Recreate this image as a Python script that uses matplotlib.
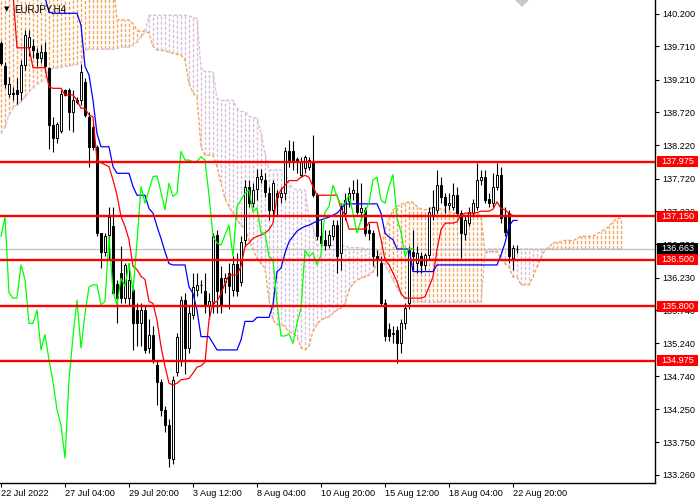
import numpy as np
import matplotlib
matplotlib.use("Agg")
import matplotlib.pyplot as plt
from matplotlib.patches import Rectangle, Polygon
from matplotlib.transforms import blended_transform_factory

plt.rcParams['font.family'] = ['Liberation Sans', 'DejaVu Sans']
plt.rcParams['lines.scale_dashes'] = False

# EURJPY H4 candles (bar 0 = 22 Jul 2022 12:00)
opens = [139.76, 139.41, 139.00, 139.00, 139.05, 139.03, 139.43, 139.70, 139.71, 139.61,
         139.53, 139.63, 139.38, 138.53, 138.33, 138.43, 139.05, 139.05, 138.73, 138.90,
         138.90, 139.18, 138.65, 138.50, 138.20, 136.90, 136.62, 136.87, 137.00, 136.14,
         136.30, 135.92, 135.92, 136.04, 135.74, 135.54, 135.74, 135.17, 135.37, 134.91,
         134.66, 134.24, 134.01, 133.49, 134.81, 134.99, 135.89, 135.17, 135.67, 136.04,
         136.12, 136.02, 135.82, 135.84, 136.87, 136.22, 136.17, 136.30, 136.04, 136.44,
         136.17, 136.80, 137.60, 137.35, 137.57, 137.72, 137.70, 137.50, 137.25, 137.50,
         137.45, 137.50, 138.13, 138.13, 138.02, 137.78, 137.88, 137.90, 137.98, 137.47,
         136.85, 136.80, 136.72, 136.85, 137.02, 136.60, 137.20, 137.38, 137.50, 137.50,
         137.22, 137.25, 136.95, 136.90, 136.55, 136.45, 135.85, 135.45, 135.40, 135.44,
         135.24, 135.54, 135.84, 136.62, 136.45, 136.55, 136.42, 136.57, 137.17, 137.25,
         137.62, 137.45, 137.32, 137.30, 137.47, 137.20, 136.88, 137.05, 137.20, 137.30,
         137.70, 137.74, 137.42, 137.35, 137.60, 137.78, 137.15, 137.20, 136.52, 136.66]
highs = [139.80, 139.48, 139.25, 139.10, 139.23, 139.50, 139.96, 139.96, 139.83, 139.68,
         139.73, 139.78, 139.40, 138.65, 138.58, 139.05, 139.07, 139.08, 139.05, 138.95,
         139.45, 139.23, 138.73, 138.55, 138.22, 136.90, 136.90, 137.30, 137.30, 136.20,
         136.70, 136.45, 136.45, 136.10, 135.85, 135.85, 135.80, 135.60, 135.50, 134.99,
         134.70, 134.30, 134.10, 134.75, 135.40, 135.95, 135.99, 135.80, 136.30, 136.30,
         136.20, 136.30, 136.00, 136.90, 136.95, 136.40, 136.30, 136.45, 136.55, 136.60,
         136.85, 137.70, 137.70, 137.65, 137.87, 137.87, 137.80, 137.60, 137.70, 137.55,
         137.60, 138.20, 138.30, 138.28, 138.05, 138.05, 138.08, 138.05, 138.38, 137.50,
         137.10, 136.95, 136.95, 137.10, 137.10, 137.35, 137.50, 137.60, 137.70, 137.72,
         137.65, 137.30, 137.05, 136.95, 136.65, 136.55, 135.90, 135.55, 135.50, 135.50,
         135.60, 135.85, 136.70, 136.95, 136.70, 136.62, 136.60, 137.30, 137.55, 137.85,
         137.75, 137.50, 137.50, 137.65, 137.60, 137.25, 137.15, 137.30, 137.42, 137.95,
         137.85, 137.85, 137.50, 137.80, 137.95, 137.90, 137.30, 137.25, 136.72, 136.72]
lows = [139.43, 139.08, 138.95, 138.90, 138.85, 138.90, 139.36, 139.56, 139.53, 139.41,
        139.46, 139.33, 138.17, 138.12, 138.25, 138.40, 138.96, 138.45, 138.42, 138.85,
        138.83, 138.65, 137.90, 138.15, 136.85, 136.37, 136.55, 136.50, 135.98, 135.54,
        135.85, 135.84, 135.80, 135.14, 135.20, 135.20, 135.10, 135.10, 134.95, 134.31,
        134.15, 133.90, 133.38, 133.42, 134.75, 134.90, 134.78, 135.10, 135.60, 135.95,
        136.00, 135.70, 135.60, 135.70, 135.70, 135.70, 136.00, 135.75, 135.95, 135.95,
        136.10, 136.70, 137.30, 137.30, 137.40, 137.65, 137.45, 137.10, 137.15, 137.15,
        137.35, 137.40, 137.90, 137.85, 137.80, 137.75, 137.80, 137.85, 137.45, 136.80,
        136.70, 136.65, 136.67, 136.80, 136.30, 136.35, 137.10, 137.30, 137.40, 137.18,
        137.10, 136.85, 136.80, 136.40, 136.25, 135.80, 135.27, 135.28, 135.25, 134.94,
        135.10, 135.45, 135.75, 136.35, 136.30, 136.30, 136.35, 136.50, 137.10, 137.20,
        137.35, 137.20, 137.25, 137.25, 137.15, 136.52, 136.80, 137.00, 137.15, 137.25,
        137.62, 137.35, 137.30, 137.30, 137.55, 137.05, 136.85, 136.45, 136.35, 136.60]
closes = [139.46, 139.15, 139.15, 139.00, 139.00, 139.43, 139.88, 139.85, 139.66, 139.53,
          139.63, 139.41, 138.53, 138.33, 138.55, 139.00, 138.98, 138.73, 138.90, 138.88,
          139.33, 138.68, 138.20, 138.20, 136.90, 136.62, 136.85, 137.14, 136.00, 135.92,
          135.92, 136.42, 136.20, 135.54, 135.54, 135.74, 135.14, 135.37, 134.99, 134.66,
          134.24, 134.01, 133.51, 134.69, 135.34, 135.89, 135.17, 135.69, 136.09, 136.12,
          136.12, 135.82, 135.87, 136.85, 136.02, 135.82, 136.22, 136.10, 136.44, 136.02,
          136.77, 137.60, 137.35, 137.55, 137.75, 137.76, 137.52, 137.25, 137.65, 137.45,
          137.50, 138.13, 138.00, 138.00, 137.97, 137.98, 138.05, 138.00, 137.47, 136.85,
          136.75, 136.72, 136.87, 137.02, 136.55, 137.30, 137.40, 137.50, 137.55, 137.22,
          137.28, 136.90, 136.90, 136.55, 136.50, 135.85, 135.35, 135.35, 135.38, 135.24,
          135.54, 135.77, 136.64, 136.55, 136.60, 136.42, 136.57, 137.22, 137.30, 137.62,
          137.45, 137.32, 137.35, 137.47, 137.20, 136.90, 137.10, 137.22, 137.35, 137.70,
          137.74, 137.40, 137.35, 137.60, 137.78, 137.12, 136.92, 136.55, 136.67, 136.663]

# Ichimoku lines
tenkan = ([140.5] * 4 + [139.69] * 4 + [139.39] * 4 + [139.1] + [139.08] * 3 + [138.98] * 3
          + [138.9] + [138.78] * 2
          + [138.68, 138.65, 138.0, 137.96, 137.93, 137.9, 137.7, 137.47, 137.15, 137.0,
             136.8, 136.4, 136.35, 136.25, 136.2, 135.87, 135.84, 135.59, 135.19, 134.89,
             134.64, 134.61, 134.64, 134.69, 134.7, 134.71, 134.79, 134.88, 134.9, 134.96,
             135.59, 135.85, 135.87, 135.99, 136.14]
          + [136.27] * 3
          + [136.4, 136.7, 136.75, 136.82, 136.85, 136.87, 136.9, 136.95, 137.05, 137.45,
             137.55, 137.62]
          + [137.69] * 3 + [137.74, 137.77, 137.74, 137.6] + [137.47] * 6 + [137.27, 137.17]
          + [136.96] * 5 + [137.06] * 3 + [136.8, 136.5, 136.42, 136.3, 136.17, 135.99]
          + [135.92] * 5 + [135.94, 136.09, 136.24, 136.65, 136.95] + [137.05] * 3
          + [137.07, 137.17] + [137.2] * 3 + [137.21] + [137.23] * 3
          + [137.26, 137.37, 137.27, 137.25, 137.2, 137.16, 137.15])
kijun = ([140.6] * 11 + [140.45, 140.23] + [140.21] * 7 + [140.03, 139.41, 139.28, 138.9, 138.4]
         + [138.2] * 3 + [137.9] + [137.8] * 4 + [137.6] + [137.47] * 3
         + [137.27, 137.2, 137.0, 136.82, 136.62, 136.44] + [136.42] * 4
         + [136.09, 135.99, 135.74] + [135.34] * 3 + [135.24] + [135.14] * 6 + [135.29]
         + [135.57] * 3 + [135.63] * 4
         + [135.82, 136.32, 136.37, 136.6, 136.77, 136.85, 136.93, 136.97, 137.0, 137.02,
            137.05, 137.08, 137.1, 137.12, 137.14, 137.17, 137.2, 137.26]
         + [137.34] * 9 + [137.2, 136.9, 136.84, 136.8] + [136.66] * 4 + [136.32] * 6
         + [136.42] * 16 + [136.57, 136.75, 137.0, 137.09, 137.09])
span_a = ([140.7] * 29 + [140.11] * 4
          + [140.05, 139.96, 139.93, 139.95, 139.91, 139.71, 139.66, 139.65, 139.65, 139.62,
             139.61, 139.59, 139.58, 139.51, 139.15, 139.01, 138.95, 138.2, 138.07, 138.07,
             138.07, 137.9, 137.65, 137.42, 137.3, 137.2, 137.1, 137.02, 136.96, 136.8,
             136.65, 136.52, 136.44, 136.37, 135.89, 135.59, 135.52, 135.52, 135.49, 135.41,
             135.39, 135.34, 135.17, 135.14, 135.2, 135.42, 135.53, 135.59, 135.62, 135.64,
             135.69, 135.74, 135.77, 135.84, 136.04, 136.14, 136.19, 136.22, 136.24, 136.27,
             136.32, 136.44, 136.6, 136.95, 137.1, 137.25, 137.3, 137.33, 137.35, 137.37,
             137.36, 137.3, 137.26, 137.25, 137.26, 137.29, 137.27, 137.26, 137.24, 137.22,
             137.21, 137.19, 137.15, 137.17, 137.18, 137.19, 137.2, 137.14, 136.6, 136.62,
             136.62, 136.62, 136.52, 136.44, 136.39, 136.24, 136.24, 136.12, 136.12, 136.12,
             136.24, 136.39, 136.53, 136.65, 136.69, 136.75, 136.76, 136.77, 136.79, 136.79,
             136.78, 136.82, 136.85, 136.85, 136.85, 136.85, 136.89, 136.92, 136.96, 137.0,
             137.07, 137.12, 137.12])
span_b = ([138.4, 138.5, 138.68, 138.78, 138.83, 138.88, 138.95, 139.03, 139.09, 139.14,
           139.18, 139.23, 139.35, 139.38, 139.39, 139.4, 139.41, 139.42, 139.43, 139.44,
           139.46, 139.66] + [139.67] * 7 + [139.68] + [139.7] * 3
          + [139.73, 139.78, 139.86, 139.93] + [140.18] * 10 + [140.17, 140.15, 140.13]
          + [139.38] + [139.33] * 3 + [138.93] + [138.9] * 4 + [138.78] + [138.73] * 2
          + [138.66, 138.64, 138.63, 138.41, 138.1] + [137.85] * 4 + [137.82, 137.65, 137.57]
          + [137.55] * 3 + [137.1, 137.0, 136.72] + [136.71] * 7 + [136.68] * 4 + [136.66] * 4
          + [136.5, 136.42, 136.32, 136.19, 136.07, 135.97, 135.9] + [135.86] * 19
          + [136.6] + [136.66] * 34)

levels = [137.975, 137.150, 136.500, 135.800, 134.975]
last_price = 136.663
price_ticks = [140.200, 139.710, 139.210, 138.720, 138.220, 137.720, 137.230, 136.730,
               136.230, 135.740, 135.240, 134.740, 134.250, 133.750, 133.260]
date_bars = [0, 16, 32, 48, 64, 80, 96, 112, 128]
date_labels = ["22 Jul 2022", "27 Jul 04:00", "29 Jul 20:00", "3 Aug 12:00", "8 Aug 04:00",
               "10 Aug 20:00", "15 Aug 12:00", "18 Aug 04:00", "22 Aug 20:00"]

fig = plt.figure(figsize=(7, 5), dpi=100)
ax = fig.add_axes([0, 17 / 500, 655 / 700, 483 / 500])
ax.set_xlim(-0.25, 163.5)
ax.set_ylim(133.136, 140.41)

# cloud hatching (one dotted column per bar, as MT4 draws it)
sa = np.array(span_a)
sb = np.array(span_b)
sx = np.arange(len(sa))
up = sa >= sb
dash = (0, (2.4, 1.3))
orange = '#f4a460'
thistle = '#d8bfd8'
for i in sx:
    lo, hi = sorted((sa[i], sb[i]))
    ax.plot([i, i], [lo, hi], color=orange if up[i] else thistle, ls=dash, lw=1.0,
            solid_capstyle='butt', dash_capstyle='butt', zorder=1)
ax.plot(sx, sa, color=orange, ls=dash, lw=1.0, zorder=1)
ax.plot(sx, sb, color=thistle, ls=dash, lw=1.0, zorder=1)

ax.axhline(last_price, color='#c0c0c0', lw=0.9, zorder=2)

# candles
x = np.arange(len(closes))
ax.vlines(x, lows, highs, color='black', lw=0.8, zorder=3)
for i in x:
    o, c = opens[i], closes[i]
    lo, hi = min(o, c), max(o, c)
    face = 'white' if c > o else 'black'
    ax.add_patch(Rectangle((i - 0.36, lo), 0.72, max(hi - lo, 0.004),
                           facecolor=face, edgecolor='black', lw=0.7, zorder=4))

# ichimoku lines
ax.plot(x, tenkan, color='#ff0000', lw=0.9, zorder=5)
ax.plot(x, kijun, color='#0000ff', lw=0.9, zorder=5)
ax.plot(x[:-26], closes[26:], color='#00ff00', lw=0.9, zorder=5)

for lv in levels:
    ax.axhline(lv, color='#ff0000', lw=1.7, zorder=6)

# axes look
for s in ['left', 'top']:
    ax.spines[s].set_visible(False)
for s in ['right', 'bottom']:
    ax.spines[s].set_color('black')
    ax.spines[s].set_linewidth(1.0)
ax.yaxis.tick_right()
ax.set_yticks(price_ticks)
ax.set_yticklabels([f"{v:.3f}" for v in price_ticks])
ax.tick_params(axis='y', length=3, width=0.8, pad=2, labelsize=6.6, colors='black')
ax.set_xticks(date_bars)
ax.set_xticklabels(date_labels, ha='left')
ax.tick_params(axis='x', length=3, width=0.8, pad=1, labelsize=6.6, colors='black')

# price tags on the right
tr = blended_transform_factory(ax.transAxes, ax.transData)
box_h = 0.165
for lv, fc in [(v, '#ff0000') for v in levels] + [(last_price, 'black')]:
    ax.add_patch(Rectangle((1.003, lv - box_h / 2), 0.063, box_h, transform=tr,
                           facecolor=fc, edgecolor='none', clip_on=False, zorder=10))
    ax.text(1.0345, lv, f"{lv:.3f}", transform=tr, color='white', fontsize=6.6,
            ha='center', va='center', clip_on=False, zorder=11)

# symbol label and shift marker
fig.text(4 / 700, 1 - 9 / 500, "\u25bc", fontsize=5, va='center', ha='left',
         family=['DejaVu Sans'])
fig.text(14 / 700, 1 - 9 / 500, "EURJPY,H4", fontsize=7, va='center', ha='left')
fig.add_artist(Polygon([[515 / 700, 1.0], [529 / 700, 1.0], [522 / 700, 1 - 7 / 500]],
                       closed=True, transform=fig.transFigure, facecolor='#c8c8c8',
                       edgecolor='none'))

fig.savefig("out.png", dpi=100, facecolor='white')
